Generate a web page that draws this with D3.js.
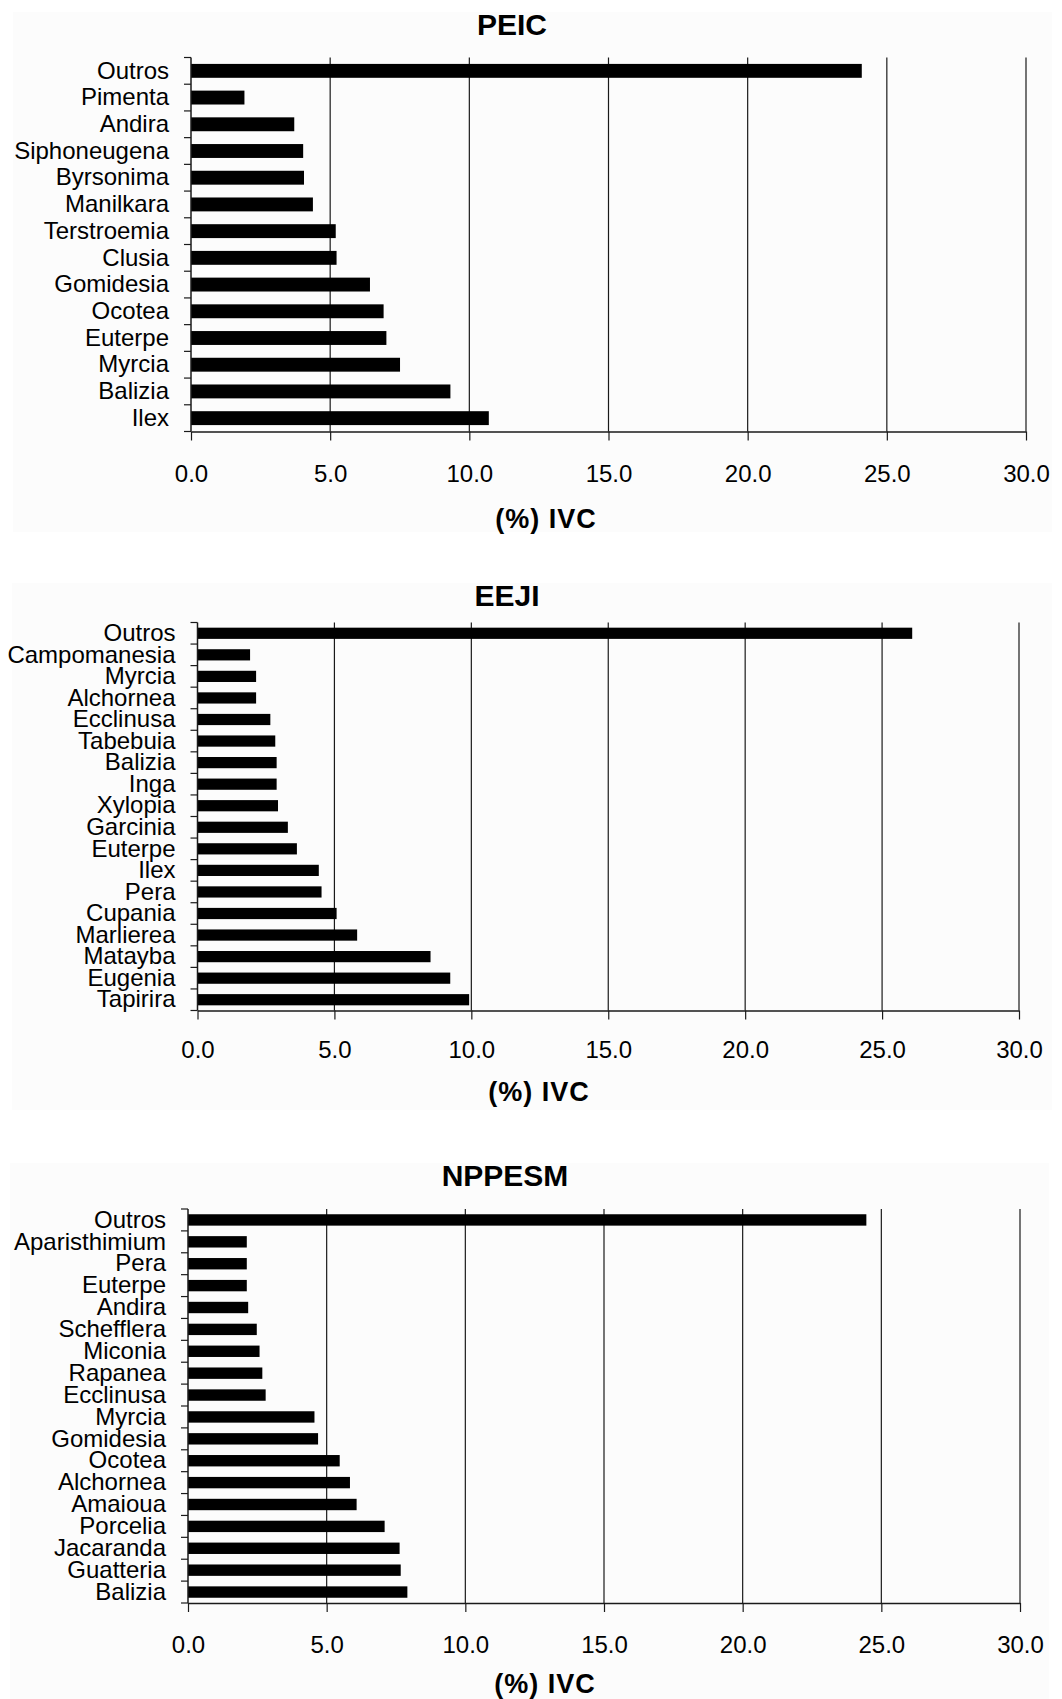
<!DOCTYPE html>
<html>
<head>
<meta charset="utf-8">
<script src="https://cdn.jsdelivr.net/npm/d3@7"></script>
<style>
  html, body { margin: 0; padding: 0; background: #ffffff; }
  svg { display: block; }
  text { font-family: "Liberation Sans", Arial, Helvetica, sans-serif; fill: #000; }
</style>
</head>
<body>
<svg id="chart" width="1062" height="1699"></svg>
<script>
// Importance value (IVC, %) by genus for three forest sites
const titles = ["PEIC", "EEJI", "NPPESM"];

const peicGenera = ["Outros", "Pimenta", "Andira", "Siphoneugena", "Byrsonima", "Manilkara",
  "Terstroemia", "Clusia", "Gomidesia", "Ocotea", "Euterpe", "Myrcia", "Balizia", "Ilex"];
const peicValues = [24.1, 1.92, 3.71, 4.03, 4.06, 4.38, 5.20, 5.23, 6.43, 6.92, 7.02, 7.51, 9.32, 10.70];

const eejiGenera = ["Outros", "Campomanesia", "Myrcia", "Alchornea", "Ecclinusa", "Tabebuia",
  "Balizia", "Inga", "Xylopia", "Garcinia", "Euterpe", "Ilex", "Pera", "Cupania", "Marlierea",
  "Matayba", "Eugenia", "Tapirira"];
const eejiValues = [26.1, 1.92, 2.14, 2.14, 2.66, 2.84, 2.89, 2.89, 2.94, 3.30, 3.63, 4.43, 4.53,
  5.08, 5.83, 8.51, 9.23, 9.92];

const nppesmGenera = ["Outros", "Aparisthimium", "Pera", "Euterpe", "Andira", "Schefflera",
  "Miconia", "Rapanea", "Ecclinusa", "Myrcia", "Gomidesia", "Ocotea", "Alchornea", "Amaioua",
  "Porcelia", "Jacaranda", "Guatteria", "Balizia"];
const nppesmValues = [24.46, 2.12, 2.12, 2.12, 2.17, 2.48, 2.58, 2.68, 2.80, 4.56, 4.69, 5.47,
  5.84, 6.08, 7.09, 7.63, 7.67, 7.91];

const xTicks = [0, 5, 10, 15, 20, 25, 30];
const xAxisTitle = "(%) IVC";

// Page placement of each panel
const frames = [
  { bg: [13, 12, 1052, 532], top: 57.5, bottom: 431.5, left: 191, right: 1026,
    titleX: 512, titleY: 24, tickY: 474, axisTitleX: 546, axisTitleY: 519 },
  { bg: [12, 583, 1052, 1110], top: 622.5, bottom: 1010.5, left: 197.5, right: 1019,
    titleX: 507, titleY: 595.5, tickY: 1050, axisTitleX: 539, axisTitleY: 1092 },
  { bg: [10, 1163, 1049, 1699], top: 1209, bottom: 1603, left: 188, right: 1020,
    titleX: 505, titleY: 1175.5, tickY: 1645, axisTitleX: 545, axisTitleY: 1684 }
];

const panels = [
  { genera: peicGenera, values: peicValues },
  { genera: eejiGenera, values: eejiValues },
  { genera: nppesmGenera, values: nppesmValues }
];

const svg = d3.select("#chart");
const pad = 0.48;

panels.forEach((p, i) => {
  const f = frames[i];
  const g = svg.append("g");

  // faint panel backdrop
  g.append("rect")
    .attr("x", f.bg[0]).attr("y", f.bg[1])
    .attr("width", f.bg[2] - f.bg[0]).attr("height", f.bg[3] - f.bg[1])
    .attr("fill", "#fcfcfc");

  const x = d3.scaleLinear().domain([0, 30]).range([f.left, f.right]);
  const y = d3.scaleBand().domain(p.genera).range([f.top, f.bottom])
    .paddingInner(pad).paddingOuter(pad / 2);
  const half = y.step() * pad / 2;

  // vertical grid lines
  g.append("g").selectAll("line")
    .data(xTicks.filter(d => d > 0))
    .join("line")
    .attr("x1", d => x(d)).attr("x2", d => x(d))
    .attr("y1", f.top).attr("y2", f.bottom)
    .attr("stroke", "#1a1a1a").attr("stroke-width", 1.2);

  // bars
  g.append("g").selectAll("rect")
    .data(p.genera.map((c, k) => ({ c, v: p.values[k] })))
    .join("rect")
    .attr("x", x(0))
    .attr("y", d => y(d.c))
    .attr("width", d => x(d.v) - x(0))
    .attr("height", y.bandwidth())
    .attr("fill", "#000");

  // x axis
  const xa = g.append("g")
    .attr("transform", `translate(0,${f.bottom})`)
    .call(d3.axisBottom(x).tickValues(xTicks).tickSize(9).tickSizeOuter(0)
      .tickFormat(d3.format(".1f")));
  xa.select(".domain").attr("stroke", "#1a1a1a").attr("stroke-width", 1.5);
  xa.selectAll(".tick line").attr("stroke", "#1a1a1a").attr("stroke-width", 1.2);
  xa.selectAll(".tick text")
    .attr("y", f.tickY - f.bottom).attr("dy", "0.35em")
    .style("font-size", "24px").style("font-family", "'Liberation Sans', Arial, sans-serif")
    .attr("fill", "#111");

  // y axis labels
  const ya = g.append("g")
    .attr("transform", `translate(${x(0)},0)`)
    .call(d3.axisLeft(y).tickSize(0).tickPadding(22));
  ya.select(".domain").remove();
  ya.selectAll(".tick text")
    .style("font-size", "24px").style("font-family", "'Liberation Sans', Arial, sans-serif")
    .attr("fill", "#000");

  // y axis line and category boundary ticks
  g.append("line")
    .attr("x1", x(0)).attr("x2", x(0))
    .attr("y1", f.top).attr("y2", f.bottom)
    .attr("stroke", "#1a1a1a").attr("stroke-width", 1.5);
  const bounds = p.genera.map(c => y(c) - half).concat([f.bottom]);
  g.append("g").selectAll("line")
    .data(bounds)
    .join("line")
    .attr("x1", x(0) - 7).attr("x2", x(0))
    .attr("y1", d => d).attr("y2", d => d)
    .attr("stroke", "#1a1a1a").attr("stroke-width", 1.2);

  // panel title
  g.append("text")
    .attr("x", f.titleX).attr("y", f.titleY).attr("dy", "0.35em")
    .attr("text-anchor", "middle")
    .style("font-size", "30px").style("font-weight", "bold")
    .text(titles[i]);

  // x axis title
  g.append("text")
    .attr("x", f.axisTitleX).attr("y", f.axisTitleY).attr("dy", "0.35em")
    .attr("text-anchor", "middle")
    .style("font-size", "27px").style("font-weight", "bold")
    .style("letter-spacing", "1px")
    .text(xAxisTitle);
});
</script>
</body>
</html>
